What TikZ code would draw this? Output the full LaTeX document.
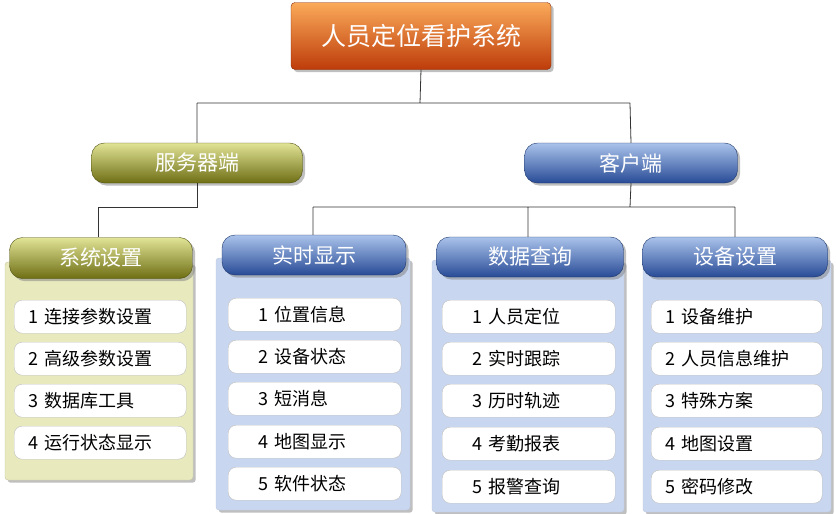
\documentclass[tikz,border=0pt]{standalone}
\usepackage{fontspec}
\setmainfont{Noto Sans CJK SC}
\usetikzlibrary{shadows}
\definecolor{olivetop}{RGB}{225,228,150}
\definecolor{olivebot}{RGB}{110,110,20}
\definecolor{bluetop}{RGB}{170,195,235}
\definecolor{bluebot}{RGB}{40,75,150}
\definecolor{oranget}{RGB}{250,170,90}
\definecolor{orangeb}{RGB}{190,60,10}
\definecolor{olivepanel}{RGB}{232,234,190}
\definecolor{bluepanel}{RGB}{200,214,240}
\tikzset{
 conn/.style={draw=black!80,line width=0.8pt},
 titlebox/.style={rounded corners=4pt,top color=oranget,bottom color=orangeb,draw=orangeb!70!black,drop shadow,text=white,font=\fontsize{25}{28}\selectfont},
 olivepill/.style={rounded corners=13pt,top color=olivetop,bottom color=olivebot,draw=olivebot!70!black,drop shadow,text=white,font=\fontsize{21}{24}\selectfont},
 bluepill/.style={rounded corners=13pt,top color=bluetop,bottom color=bluebot,draw=bluebot!70!black,drop shadow,text=white,font=\fontsize{21}{24}\selectfont},
 opanel/.style={fill=olivepanel,draw=olivebot!40,rounded corners=3pt,drop shadow},
 bpanel/.style={fill=bluepanel,draw=bluebot!30,rounded corners=3pt,drop shadow},
 itembox/.style={rounded corners=8pt,fill=white,draw=black!25,font=\fontsize{18}{20}\selectfont,anchor=north west,inner xsep=14pt,inner ysep=0pt,text width=#1pt-28pt,align=left},
}
\newcommand{\itm}[6]{\node[itembox=#3,minimum height=33pt] (#6) at (#1,#2) {#5 #4};}
\newcommand{\itmi}[6]{\node[itembox=#3,minimum height=33pt] (#6) at (#1,#2) {\hspace*{16pt}#5 #4};}
\begin{document}
\begin{tikzpicture}[x=1pt,y=-1pt]
\useasboundingbox[fill=white] (0,0) rectangle (836,514);
\coordinate (j1) at (420,103);
\coordinate (l1) at (197,103);
\coordinate (r1) at (630,103);
\coordinate (j2) at (197,207);
\coordinate (l2) at (98,207);
\coordinate (j3) at (630,207);
\coordinate (a3) at (313,207);
\coordinate (b3) at (528,207);
\coordinate (c3) at (735,207);
\draw[opanel] (5,262) rectangle (193,480);
\draw[bpanel] (216,258) rectangle (410,510);
\draw[bpanel] (432,260) rectangle (624,512);
\draw[bpanel] (643,260) rectangle (831,512);
\node[titlebox,minimum width=260pt,minimum height=67pt] (top) at (421,36) {人员定位看护系统};
\node[olivepill,minimum width=211pt,minimum height=40pt] (srv) at (197,163) {服务器端};
\node[bluepill,minimum width=213pt,minimum height=40pt] (cli) at (631,163) {客户端};
\node[olivepill,minimum width=183pt,minimum height=41pt] (h1) at (101,258) {系统设置};
\node[bluepill,minimum width=184pt,minimum height=40pt] (h2) at (314,255) {实时显示};
\node[bluepill,minimum width=187pt,minimum height=40pt] (h3) at (530,257) {数据查询};
\node[bluepill,minimum width=185pt,minimum height=40pt] (h4) at (735,257) {设备设置};
\draw[conn] (top.south) -- (j1) (l1) -- (r1) (l1) -- (srv.north) (r1) -- (cli.north);
\draw[conn] (srv.south) -- (j2) -- (l2) -- (h1.north -| l2);
\draw[conn] (cli.south) -- (j3) (a3) -- (c3) (a3) -- (h2.north -| a3) (b3) -- (h3.north -| b3) (c3) -- (h4.north -| c3);
\itm{14}{300}{172}{连接参数设置}{1}{s1}
\itm{14}{342}{172}{高级参数设置}{2}{s2}
\itm{14}{384}{172}{数据库工具}{3}{s3}
\itm{14}{426}{172}{运行状态显示}{4}{s4}
\itmi{228}{298}{173}{位置信息}{1}{r1a}
\itmi{228}{340}{173}{设备状态}{2}{r2a}
\itmi{228}{382}{173}{短消息}{3}{r3a}
\itmi{228}{425}{173}{地图显示}{4}{r4a}
\itmi{228}{467}{173}{软件状态}{5}{r5a}
\itmi{442}{300}{173}{人员定位}{1}{d1}
\itmi{442}{342}{173}{实时跟踪}{2}{d2}
\itmi{442}{384}{173}{历时轨迹}{3}{d3}
\itmi{442}{427}{173}{考勤报表}{4}{d4}
\itmi{442}{470}{173}{报警查询}{5}{d5}
\itm{651}{300}{171}{设备维护}{1}{e1}
\itm{651}{342}{171}{人员信息维护}{2}{e2}
\itm{651}{384}{171}{特殊方案}{3}{e3}
\itm{651}{427}{171}{地图设置}{4}{e4}
\itm{651}{470}{171}{密码修改}{5}{e5}
\end{tikzpicture}
\end{document}
